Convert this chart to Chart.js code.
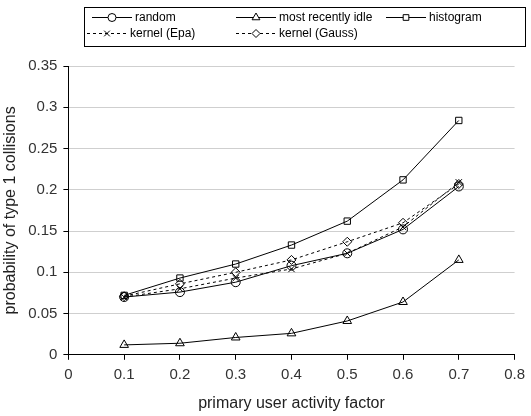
<!DOCTYPE html>
<html>
<head>
<meta charset="utf-8">
<script src="https://cdn.jsdelivr.net/npm/chart.js@4"></script>
<style>
  html, body { margin: 0; padding: 0; background: #fff; }
  canvas { display: block; }
</style>
</head>
<body>
<canvas id="chart" width="531" height="416"></canvas>
<script>
// data
const xValues = [0.1, 0.2, 0.3, 0.4, 0.5, 0.6, 0.7];
const randomVals = [0.070, 0.076, 0.088, 0.108, 0.123, 0.152, 0.204];
const recentIdleVals = [0.012, 0.014, 0.021, 0.026, 0.041, 0.064, 0.115];
const histogramVals = [0.072, 0.093, 0.110, 0.133, 0.162, 0.212, 0.284];
const epaVals = [0.070, 0.080, 0.093, 0.104, 0.123, 0.155, 0.209];
const gaussVals = [0.071, 0.086, 0.100, 0.115, 0.137, 0.160, 0.207];
const xTickLabels = ['0', '0.1', '0.2', '0.3', '0.4', '0.5', '0.6', '0.7', '0.8'];
const yTickLabels = ['0', '0.05', '0.1', '0.15', '0.2', '0.25', '0.3', '0.35'];

const FONT = '"Liberation Sans", Arial, sans-serif';

function pts(vals) {
    return vals.map((v, i) => ({ x: xValues[i], y: v }));
}

function series(label, vals, style, dashed) {
    return {
        label: label,
        data: pts(vals),
        borderColor: '#000',
        backgroundColor: 'rgba(0,0,0,0)',
        borderWidth: 1,
        borderDash: dashed ? [3, 3] : [],
        pointStyle: style,
        pointRadius: style === 'triangle' ? 5 : 4.5,
        pointBorderColor: '#000',
        pointBackgroundColor: 'rgba(0,0,0,0)',
        pointBorderWidth: 1,
        tension: 0
    };
}

// legend drawn on the canvas, boxed, two rows
const legendItems = [
    { label: 'random', style: 'circle', dashed: false, x: 92, row: 0 },
    { label: 'most recently idle', style: 'triangle', dashed: false, x: 236, row: 0 },
    { label: 'histogram', style: 'rect', dashed: false, x: 386, row: 0 },
    { label: 'kernel (Epa)', style: 'crossRot', dashed: true, x: 87, row: 1 },
    { label: 'kernel (Gauss)', style: 'rectRot', dashed: true, x: 236, row: 1 }
];

const boxLegend = {
    id: 'boxLegend',
    afterDraw(chart) {
        const c = chart.ctx;
        c.save();
        c.strokeStyle = '#000';
        c.lineWidth = 1;
        c.strokeRect(84.5, 7.5, 441, 39);
        c.font = '12px ' + FONT;
        c.textBaseline = 'middle';
        legendItems.forEach(it => {
            const y = it.row === 0 ? 17 : 33;
            const len = 40;
            c.strokeStyle = '#000';
            c.setLineDash(it.dashed ? [3, 3] : []);
            c.beginPath();
            c.moveTo(it.x, y + 0.5);
            c.lineTo(it.x + len, y + 0.5);
            c.stroke();
            c.setLineDash([]);
            c.fillStyle = '#fff';
            Chart.helpers.drawPoint(c, {
                pointStyle: it.style,
                radius: it.style === 'triangle' ? 4.5 : 4,
                rotation: 0,
                borderWidth: 1
            }, it.x + len / 2, y + 0.5);
            c.fillStyle = '#000';
            c.fillText(it.label, it.x + len + 3, y + 1);
        });
        c.restore();
    }
};

new Chart(document.getElementById('chart'), {
    type: 'line',
    data: {
        datasets: [
            series('random', randomVals, 'circle', false),
            series('most recently idle', recentIdleVals, 'triangle', false),
            series('histogram', histogramVals, 'rect', false),
            series('kernel (Epa)', epaVals, 'crossRot', true),
            series('kernel (Gauss)', gaussVals, 'rectRot', true)
        ]
    },
    options: {
        responsive: false,
        animation: false,
        devicePixelRatio: 1,
        layout: { padding: { top: 66, right: -3, left: 1, bottom: 3 } },
        plugins: {
            legend: { display: false },
            tooltip: { enabled: false }
        },
        scales: {
            x: {
                type: 'linear',
                min: 0,
                max: 0.8,
                ticks: {
                    stepSize: 0.1,
                    color: '#333',
                    font: { family: FONT, size: 15 },
                    padding: 6,
                    callback: (v, i) => xTickLabels[i]
                },
                grid: { color: 'rgba(0,0,0,0)', tickColor: '#000', tickLength: 5, drawOnChartArea: false },
                border: { color: '#000', width: 1 },
                title: {
                    display: true,
                    text: 'primary user activity factor',
                    color: '#222',
                    font: { family: FONT, size: 16 },
                    padding: { top: 4, bottom: 0 }
                }
            },
            y: {
                min: 0,
                max: 0.35,
                ticks: {
                    stepSize: 0.05,
                    color: '#333',
                    font: { family: FONT, size: 15 },
                    padding: 6,
                    callback: (v, i) => yTickLabels[i]
                },
                grid: { color: '#cfcfcf', tickColor: '#000', tickLength: 5 },
                border: { color: '#000', width: 1 },
                title: {
                    display: true,
                    text: 'probability of type 1 collisions',
                    color: '#222',
                    font: { family: FONT, size: 16 },
                    padding: { top: 0, bottom: 2 }
                }
            }
        }
    },
    plugins: [boxLegend]
});
</script>
</body>
</html>
